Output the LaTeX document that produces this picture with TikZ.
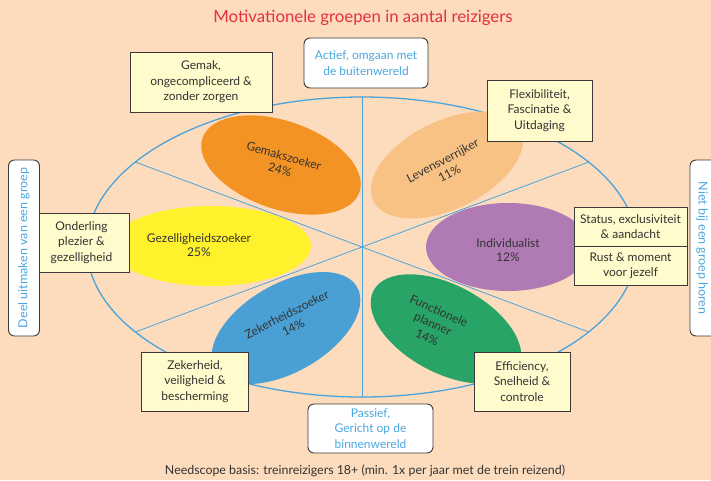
\documentclass[tikz,border=0pt]{standalone}
\usepackage{fontspec}
\setmainfont{Lato}
\usetikzlibrary{shapes.geometric}
\definecolor{bg}{HTML}{FCDCBD}
\definecolor{lineblue}{HTML}{4AA3DB}
\definecolor{orangeC}{HTML}{F39323}
\definecolor{lorangeC}{HTML}{F9C285}
\definecolor{yellowC}{HTML}{FFF22D}
\definecolor{purpleC}{HTML}{B07AB4}
\definecolor{blueC}{HTML}{4A9FD4}
\definecolor{greenC}{HTML}{27A466}
\definecolor{boxfill}{HTML}{FFFBCC}
\definecolor{boxline}{HTML}{3A3A3A}
\definecolor{textc}{HTML}{333333}
\definecolor{bluetext}{HTML}{4AA8E0}
\definecolor{titlered}{HTML}{E6303A}
\newcommand\fsz[2]{\fontsize{#1}{#2}\selectfont}
\begin{document}
\begin{tikzpicture}[x=1pt,y=-1pt,
  box/.style={draw=boxline, fill=boxfill, line width=0.9pt, inner sep=0, align=center, text=textc, font=\fsz{12}{15.5}},
  wbox/.style={draw=boxline, fill=white, line width=0.9pt, rounded corners=6pt, inner sep=0, align=center, text=bluetext, font=\fsz{12}{15.5}},
  blob/.style={ellipse, inner sep=0, draw=none},
  lbl/.style={align=center, text=textc, font=\fsz{12}{14.5}, inner sep=0},
  div/.style={draw=lineblue, line width=0.8pt}]
\useasboundingbox (0,0) rectangle (711,480);
\fill[bg] (0,0) rectangle (711,480);
% title
\node[text=titlered, font=\fsz{16.8}{19}] (title) at (363,18) {Motivationele groepen in aantal reizigers};
% big ellipse and dividers
\coordinate (c) at (362,247);
\coordinate (top) at (362,97);
\coordinate (bot) at (362,397);
\coordinate (ul) at (135.3,162);
\coordinate (ur) at (588.7,162);
\coordinate (ll) at (135.3,332);
\coordinate (lr) at (588.7,332);
\draw[lineblue, line width=1.3pt] (c) ellipse [x radius=275pt, y radius=150pt];
\draw[div] (top) -- (bot);
\draw[div] (ul) -- (c) -- (lr);
\draw[div] (ll) -- (c) -- (ur);
% coloured ellipses
\node[blob, fill=orangeC, minimum width=166pt, minimum height=88pt, rotate=-19] (gemE) at (281,165) {};
\node[blob, fill=lorangeC, minimum width=164pt, minimum height=88pt, rotate=26] (levE) at (447,165) {};
\node[blob, fill=yellowC, minimum width=200pt, minimum height=80pt] (gezE) at (211,246) {};
\node[blob, fill=purpleC, minimum width=164pt, minimum height=88pt] (indE) at (508,247) {};
\node[blob, fill=blueC, minimum width=164pt, minimum height=88pt, rotate=30] (zekE) at (286,328) {};
\node[blob, fill=greenC, minimum width=164pt, minimum height=88pt, rotate=-28] (funE) at (446,329) {};
% labels
\node[lbl, rotate=-16] (gemT) at (282,163) {Gemakszoeker\\24\%};
\node[lbl, rotate=28] (levT) at (446,167) {Levensverrijker\\11\%};
\node[lbl] (gezT) at (199,245) {Gezelligheidszoeker\\25\%};
\node[lbl] (indT) at (508,250) {Individualist\\12\%};
\node[lbl, rotate=27] (zekT) at (290,321) {Zekerheidszoeker\\14\%};
\node[lbl, rotate=-24] (funT) at (433,324) {Functionele\\planner\\14\%};
% yellow boxes
\node[box, minimum width=142pt, minimum height=60pt] (gemB) at (201,82) {Gemak,\\ongecompliceerd \&\\zonder zorgen};
\node[box, minimum width=105pt, minimum height=61pt] (flexB) at (539.5,110.5) {Flexibiliteit,\\Fascinatie \&\\Uitdaging};
\node[box, minimum width=95pt, minimum height=59pt] (ondB) at (81.5,242.5) {Onderling\\plezier \&\\gezelligheid};
\node[box, minimum width=113pt, minimum height=39pt] (statB) at (630.5,226.5) {Status, exclusiviteit\\\& aandacht};
\node[box, minimum width=113pt, minimum height=39pt] (rustB) at (630.5,265.5) {Rust \& moment\\voor jezelf};
\node[box, minimum width=107pt, minimum height=59pt] (zekB) at (195,381.5) {Zekerheid,\\veiligheid \&\\bescherming};
\node[box, minimum width=96pt, minimum height=59pt] (effB) at (522,381.5) {Efficiency,\\Snelheid \&\\controle};
% white boxes
\node[wbox, minimum width=124pt, minimum height=50pt] (actB) at (366,63) {Actief, omgaan met\\de buitenwereld};
\node[wbox, minimum width=125pt, minimum height=49pt] (pasB) at (370.5,428.5) {Passief,\\Gericht op de\\binnenwereld};
\node[wbox, minimum width=31pt, minimum height=176pt] (leftB) at (24,248) {};
\node[text=bluetext, font=\fsz{12.5}{14}, rotate=90, inner sep=0] (leftT) at (leftB.center) {Deel uitmaken van een groep};
\node[wbox, minimum width=36pt, minimum height=176pt] (rightB) at (708,248) {};
\node[text=bluetext, font=\fsz{12.5}{14}, rotate=-90, inner sep=0] (rightT) at (702,248) {Niet bij een groep horen};
% footnote
\node[text=textc, font=\fsz{12.4}{14}] (foot) at (365,471) {Needscope basis: treinreizigers 18+ (min. 1x per jaar met de trein reizend)};
\end{tikzpicture}
\end{document}
